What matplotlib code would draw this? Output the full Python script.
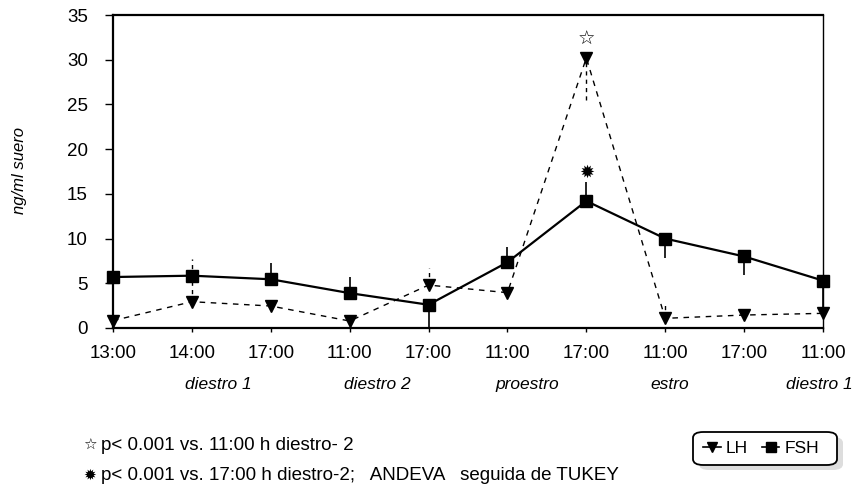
import matplotlib
matplotlib.use("Agg")
import matplotlib.pyplot as plt
from matplotlib.lines import Line2D
from matplotlib.patches import FancyBboxPatch

plt.rcParams['font.family'] = ['Liberation Sans', 'DejaVu Sans']
plt.rcParams['hatch.color'] = '#777777'
plt.rcParams['hatch.linewidth'] = 0.8

# ---- data ----
time_labels = ["13:00", "14:00", "17:00", "11:00", "17:00", "11:00", "17:00", "11:00", "17:00", "11:00"]
phase_labels = ["diestro 1", "diestro 2", "proestro", "estro", "diestro 1"]
phase_pos = [1.34, 3.35, 5.25, 7.06, 9.37]

fsh = [5.7, 5.85, 5.45, 3.9, 2.6, 7.35, 14.2, 10.0, 8.0, 5.3]
fsh_err_low = [0, 0, 0, 0, 2.6, 0, 0, 2.2, 2.1, 3.0]
fsh_err_up = [0, 0, 1.8, 1.8, 0, 1.75, 2.1, 0, 0, 0]

lh = [0.82, 2.94, 2.46, 0.78, 4.8, 3.95, 30.2, 1.08, 1.45, 1.64]
lh_err_low = [0.82, 0, 0, 0.78, 0, 0, 4.7, 0, 0, 0]
lh_err_up = [0, 4.8, 0, 0, 1.9, 0, 0, 1.8, 0, 0]

x = list(range(len(time_labels)))

W, H = 856, 488
fig = plt.figure(figsize=(W/100, H/100), dpi=100)
ax = fig.add_axes([113/W, 1-328/H, (823-113)/W, (328-15)/H])

# error bars
eb1 = ax.errorbar(x, lh, yerr=[lh_err_low, lh_err_up], fmt='none', ecolor='black',
                  elinewidth=1.0, capsize=0)
eb1[2][0].set_linestyle((0, (3, 3)))
eb2 = ax.errorbar(x, fsh, yerr=[fsh_err_low, fsh_err_up], fmt='none', ecolor='black',
                  elinewidth=1.2, capsize=0)

ax.plot(x, lh, color='black', linestyle=(0, (4, 4)), linewidth=1.0, marker='v',
        markersize=8.5, clip_on=False, zorder=3, label='LH')
ax.plot(x, fsh, color='black', linestyle='-', linewidth=1.6, marker='s',
        markersize=8.5, clip_on=False, zorder=4, label='FSH')

ax.set_xlim(0, 9)
ax.set_ylim(0, 35)
ax.set_yticks(range(0, 36, 5))
ax.set_xticks(x)
ax.set_xticklabels(time_labels)
ax.tick_params(axis='both', labelsize=13.5, direction='out', width=1)
ax.tick_params(axis='y', length=6, pad=12)
ax.tick_params(axis='x', length=3, pad=9)
for side in ['left', 'bottom', 'top']:
    ax.spines[side].set_linewidth(1.6)
ax.spines['right'].set_linewidth(1.0)

fig.text(20/W, 1-171/H, "ng/ml suero", rotation=90, ha='center', va='center',
         fontsize=12, style='italic')

for i, (p, lab) in enumerate(zip(phase_pos, phase_labels)):
    ha = 'right' if i == len(phase_labels) - 1 else 'center'
    ax.text(p, -0.182, lab, transform=ax.get_xaxis_transform(),
            ha=ha, va='center', fontsize=12.5, style='italic', clip_on=False)

# significance markers
ax.text(6, 32.3, "☆", ha='center', va='center', fontsize=14, fontweight='bold',
        family=['DejaVu Sans'])
ax.text(6, 17.4, "✹", ha='center', va='center', fontsize=13, family=['DejaVu Sans'])

# footnotes
fig.text(90/W, 1-445/H, "☆", ha='center', va='center', fontsize=11, fontweight='bold',
         family=['DejaVu Sans'])
fig.text(101/W, 1-445/H, "p< 0.001 vs. 11:00 h diestro- 2", ha='left', va='center', fontsize=13.5)
fig.text(90/W, 1-475/H, "✹", ha='center', va='center', fontsize=11, family=['DejaVu Sans'])
fig.text(101/W, 1-475/H, "p< 0.001 vs. 17:00 h diestro-2;   ANDEVA   seguida de TUKEY",
         ha='left', va='center', fontsize=13.5)

# legend box with hatched shadow
bx0, bx1, by0, by1 = 693, 837, 432, 465
shadow = FancyBboxPatch(((bx0 + 6)/W, 1-(by1 + 5)/H), (bx1-bx0)/W, (by1-by0)/H,
                        boxstyle="round,pad=0,rounding_size=0.012", transform=fig.transFigure,
                        facecolor='#dddddd', edgecolor='none', hatch='.....', zorder=1)
box = FancyBboxPatch((bx0/W, 1-by1/H), (bx1-bx0)/W, (by1-by0)/H,
                     boxstyle="round,pad=0,rounding_size=0.012", transform=fig.transFigure,
                     facecolor='white', edgecolor='black', linewidth=1.3, zorder=2)
fig.patches.extend([shadow, box])

handles = [Line2D([], [], color='black', linestyle='-', linewidth=1.2, marker='v', markersize=7),
           Line2D([], [], color='black', linestyle='-', linewidth=1.2, marker='s', markersize=7)]
leg = fig.legend(handles, ['LH', 'FSH'], loc='center left',
                 bbox_to_anchor=(bx0/W - 0.004, 1-448.5/H),
                 ncol=2, fontsize=12.5, handlelength=1.0, handletextpad=0.3,
                 columnspacing=0.8, frameon=False, borderpad=0.3)
leg.set_zorder(5)

fig.savefig("out.png", dpi=100)
